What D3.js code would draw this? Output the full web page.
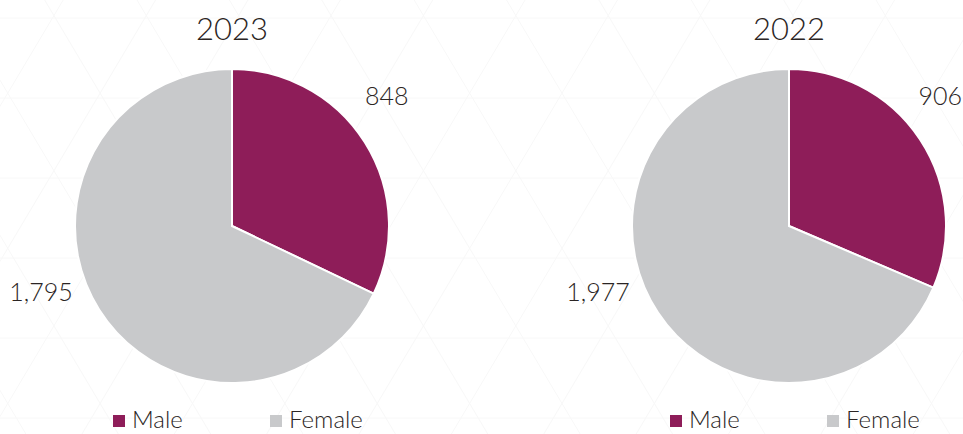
<!DOCTYPE html>
<html>
<head>
<meta charset="utf-8">
<script src="https://cdn.jsdelivr.net/npm/d3@7"></script>
<style>
  html, body { margin: 0; padding: 0; background: #fff; }
  svg { display: block; font-family: Lato, "Open Sans", sans-serif; font-weight: 300; }
</style>
</head>
<body>
<svg id="chart" width="963" height="434"></svg>
<script>
// Data
const years = ["2023", "2022"];
const genders = ["Male", "Female"];
const male = [848, 906];
const female = [1795, 1977];

const colors = { Male: "#8e1d59", Female: "#c8c9cb" };
const textColor = "#2b2524";

const W = 963, H = 434;
const svg = d3.select("#chart");

// Faint triangle pattern in the background
function drawPattern() {
  const g = svg.append("g").attr("stroke", "#f8f8f8").attr("stroke-width", 1);
  const rowH = 80, side = rowH / Math.sin(Math.PI / 3), y0 = 18, x0 = 47;
  for (let y = y0 - rowH; y < H + rowH; y += rowH) {
    g.append("line").attr("x1", 0).attr("x2", W).attr("y1", y).attr("y2", y);
  }
  const dx = (H + 2 * rowH) / Math.tan(Math.PI / 3);
  for (let x = x0 - 2 * dx - side; x < W + 2 * dx; x += side) {
    g.append("line").attr("x1", x).attr("y1", y0 - rowH).attr("x2", x + dx).attr("y2", H + rowH);
    g.append("line").attr("x1", x).attr("y1", y0 - rowH).attr("x2", x - dx).attr("y2", H + rowH);
  }
}
drawPattern();

const radius = 157;
const centers = [232, 789];
const cy = 226;
const labelAngles = [50, 251];   // degrees, where the value labels sit
const labelRadius = 202;

const pie = d3.pie().sort(null).value(d => d.value);
const arc = d3.arc().innerRadius(0).outerRadius(radius);

years.forEach((year, i) => {
  const data = [
    { gender: "Male", value: male[i] },
    { gender: "Female", value: female[i] }
  ];
  const g = svg.append("g").attr("transform", `translate(${centers[i]},${cy})`);

  g.selectAll("path")
    .data(pie(data))
    .enter().append("path")
    .attr("d", arc)
    .attr("fill", d => colors[d.data.gender])
    .attr("stroke", "#fff")
    .attr("stroke-width", 2);

  // Value labels
  g.selectAll("text.value")
    .data(data)
    .enter().append("text")
    .attr("class", "value")
    .attr("x", (d, j) => labelRadius * Math.sin(labelAngles[j] * Math.PI / 180))
    .attr("y", (d, j) => -labelRadius * Math.cos(labelAngles[j] * Math.PI / 180))
    .attr("dy", "0.35em")
    .attr("text-anchor", "middle")
    .attr("font-size", 25)
    .attr("fill", textColor)
    .text(d => d3.format(",")(d.value))
    .each(function() {
      // keep labels inside the picture
      const b = this.getBBox();
      const right = centers[i] + b.x + b.width;
      if (right > W - 1) d3.select(this).attr("x", +d3.select(this).attr("x") - (right - W + 1));
    });

  // Title
  svg.append("text")
    .attr("x", centers[i])
    .attr("y", 40)
    .attr("text-anchor", "middle")
    .attr("font-size", 31)
    .attr("fill", textColor)
    .text(year);

  // Legend
  const legend = svg.append("g").attr("transform", `translate(${centers[i]},420)`);
  const offsets = [-119, 38];
  genders.forEach((gName, j) => {
    legend.append("rect")
      .attr("x", offsets[j])
      .attr("y", -5)
      .attr("width", 12)
      .attr("height", 12)
      .attr("fill", colors[gName]);
    legend.append("text")
      .attr("x", offsets[j] + 19)
      .attr("y", 0)
      .attr("dy", "0.35em")
      .attr("font-size", 24)
      .attr("fill", textColor)
      .text(gName);
  });
});
</script>
</body>
</html>
